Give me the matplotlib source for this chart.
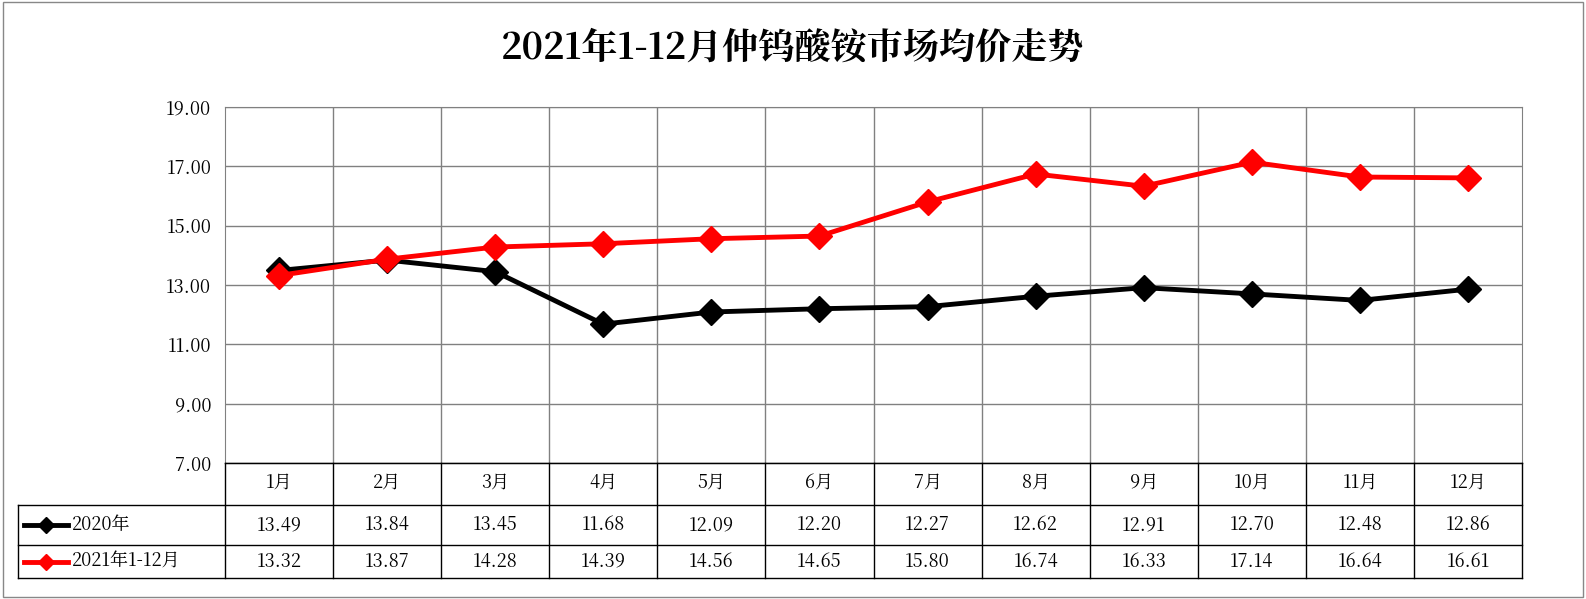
import matplotlib
matplotlib.use("Agg")
import matplotlib.pyplot as plt
from matplotlib import font_manager

# pick an installed CJK font by file, fall back to name
cjk = [f for f in font_manager.fontManager.ttflist if "CJK" in f.name]
fam = cjk[0].name if cjk else "Noto Sans CJK SC"
for f in cjk:
    if f.name.endswith("SC"):
        fam = f.name
        break
plt.rcParams["font.family"] = [fam, "DejaVu Sans"]

months = ["1月", "2月", "3月", "4月", "5月", "6月", "7月", "8月", "9月", "10月", "11月", "12月"]
s2020 = [13.49, 13.84, 13.45, 11.68, 12.09, 12.20, 12.27, 12.62, 12.91, 12.70, 12.48, 12.86]
s2021 = [13.32, 13.87, 14.28, 14.39, 14.56, 14.65, 15.80, 16.74, 16.33, 17.14, 16.64, 16.61]
names = ["2020年", "2021年1-12月"]
colors = ["black", "#ff0000"]
yticks = [7, 9, 11, 13, 15, 17, 19]

W, H = 1586, 599
fig = plt.figure(figsize=(W / 100, H / 100), dpi=100)
fig.patches.append(plt.Rectangle((0.002, 0.003), 0.996, 0.994, transform=fig.transFigure,
                                 fill=False, edgecolor="#888888", lw=1))

L, R, T, B = 225, 1522, 107, 463
ax = fig.add_axes([L / W, 1 - B / H, (R - L) / W, (B - T) / H])
x = range(len(months))
ax.set_xlim(-0.5, len(months) - 0.5)
ax.set_ylim(7, 19)
ax.set_yticks(yticks)
ax.set_yticklabels(["%.2f" % v for v in yticks], fontsize=13)
ax.set_xticks([i + 0.5 for i in x[:-1]])
ax.set_xticklabels([])
ax.tick_params(length=0, pad=10)
ax.grid(True, color="#808080", lw=1)
for sp in ax.spines.values():
    sp.set_color("#808080")
ax.spines["bottom"].set_color("black")
for vals, c in zip([s2020, s2021], colors):
    ax.plot(x, vals, color=c, lw=3.5, marker="D", markersize=13, zorder=3)
fig.text(0.5, 1 - 48 / H, "2021年1-12月仲钨酸铵市场均价走势", ha="center", va="center",
         fontsize=26, fontweight="bold")

# data table
tb = fig.add_axes([0, 0, 1, 1])
tb.set_xlim(0, W)
tb.set_ylim(H, 0)
tb.axis("off")
rows = [463, 505, 545, 578]
cw = (R - L) / len(months)
for y in rows:
    x0 = L if y == rows[0] else 18
    tb.plot([x0, R], [y, y], color="black", lw=1)
for i in range(len(months) + 1):
    tb.plot([L + i * cw] * 2, [rows[0], rows[-1]], color="black", lw=1)
tb.plot([18, 18], [rows[1], rows[-1]], color="black", lw=1)
for i, m in enumerate(months):
    cx = L + (i + 0.5) * cw
    tb.text(cx, (rows[0] + rows[1]) / 2, m, ha="center", va="center", fontsize=13)
    for r, vals in enumerate([s2020, s2021]):
        tb.text(cx, (rows[r + 1] + rows[r + 2]) / 2, "%.2f" % vals[i], ha="center", va="center", fontsize=13)
for r, (n, c) in enumerate(zip(names, colors)):
    cy = (rows[r + 1] + rows[r + 2]) / 2
    tb.plot([24, 46, 68], [cy, cy, cy], color=c, lw=3.5, marker="D", markersize=8, markevery=[1])
    tb.text(72, cy, n, ha="left", va="center", fontsize=13)

fig.savefig("out.png", dpi=100)
